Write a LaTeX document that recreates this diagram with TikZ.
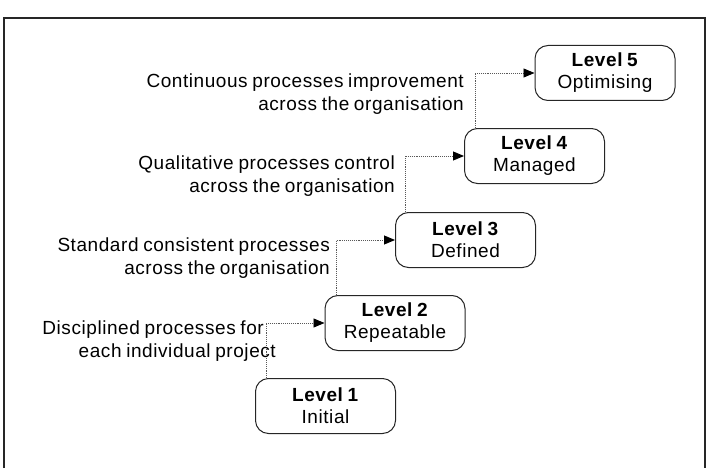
\documentclass[tikz,border=0pt]{standalone}
\usepackage{fontspec}
\setmainfont{Liberation Sans}[LetterSpace=3,WordSpace=0.8]
\usetikzlibrary{arrows.meta,calc}
\begin{document}
\begin{tikzpicture}[x=1pt,y=-1pt,
  level/.style={draw=black!85,line width=1pt,rounded corners=13pt,
    minimum width=140pt,minimum height=55pt,align=center,inner sep=0pt,
    font=\fontsize{19}{22}\selectfont},
  desc/.style={align=right,anchor=east,inner sep=0pt,
    font=\fontsize{19}{23}\selectfont},
  link/.style={draw=black!65,densely dotted,line width=0.9pt,
    -{Triangle[length=11pt,width=9pt,fill=black,color=black]}}]
\useasboundingbox (0,0) rectangle (711,468);
\draw[black!85,line width=1.2pt] (4,468) -- (4,18) -- (705,18) -- (705,468);

\node[level] (L1) at (325.5,406) {\textbf{Level 1}\\Initial};
\node[level] (L2) at (395,323) {\textbf{Level 2}\\Repeatable};
\node[level] (L3) at (465.5,240) {\textbf{Level 3}\\Defined};
\node[level] (L4) at (534.5,156) {\textbf{Level 4}\\Managed};
\node[level] (L5) at (605,73) {\textbf{Level 5}\\Optimising};

\coordinate (c1) at ($(L1.north west)+(11,0)$);
\coordinate (c2) at ($(L2.north west)+(12,0)$);
\coordinate (c3) at ($(L3.north west)+(10,0)$);
\coordinate (c4) at ($(L4.north west)+(11,0)$);

\draw[link] (c1) |- (L2.west);
\draw[link] (c2) |- (L3.west);
\draw[link] (c3) |- (L4.west);
\draw[link] (c4) |- (L5.west);

\node[desc] (t1) at (276,341) {Disciplined processes for\hspace*{12pt}\\each individual project};
\node[desc] (t2) at (330,258.5) {Standard consistent processes\\across the organisation};
\node[desc] (t3) at (395,176) {Qualitative processes control\\across the organisation};
\node[desc] (t4) at (464,94) {Continuous processes improvement\\across the organisation};
\end{tikzpicture}
\end{document}
